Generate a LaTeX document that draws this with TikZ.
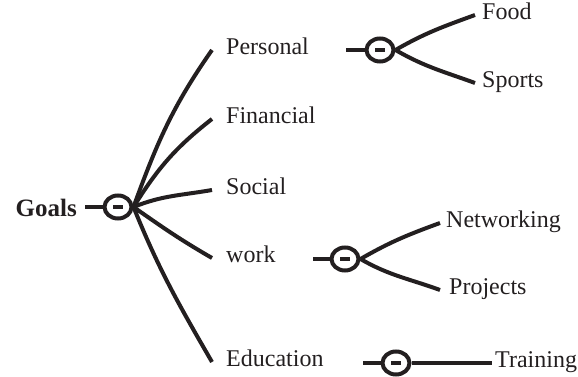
\documentclass[tikz,border=0pt]{standalone}
\usepackage{fontspec}
\setmainfont{Liberation Serif}
\usepackage{tikz}
\usetikzlibrary{shapes.geometric}
\definecolor{ink}{RGB}{35,31,32}

\begin{document}
\begin{tikzpicture}[
    x=1pt,
    y=1pt,
    every node/.style={
      text=ink,
      font=\fontsize{24}{28}\selectfont,
      text height=15pt,
      text depth=5pt},
    topic/.style={
      anchor=west,
      inner xsep=14pt},
    leaf/.style={
      anchor=west,
      inner xsep=7pt},
    fold/.style={
      ellipse,
      draw=ink,
      line width=4pt,
      text height=0pt,
      text depth=0pt,
      inner sep=0pt,
      minimum width=27pt,
      minimum height=23pt,
      path picture={
        \draw[ink, line width=3.5pt]
          ([xshift=-5pt]path picture bounding box.center) --
          ([xshift=5pt]path picture bounding box.center);
      }},
    branch/.style={
      draw=ink,
      line width=4pt},
  ]
  \useasboundingbox (0,0) rectangle (578,377);

  % root
  \node[fold] (goalsfold) at (118,170) {};
  \node[
    anchor=base east,
    inner xsep=8pt,
    font=\fontsize{25}{30}\selectfont\bfseries,
  ] (goals) at (85,160) {Goals};
  \draw[branch] (goalsfold.west) -- (goalsfold.west -| goals.east);

  % first level
  \node[topic] (personal) at (212,327) {Personal};
  \node[topic] (financial) at (212,258) {Financial};
  \node[topic] (social) at (212,187) {Social};
  \node[topic] (work) at (212,119) {work};
  \node[topic] (education) at (212,15) {Education};

  \draw[branch] (goalsfold.east) to[out=70, in=235] (personal.west);
  \draw[branch] (goalsfold.east) to[out=58, in=218] (financial.west);
  \draw[branch] (goalsfold.east) to[out=22, in=190] (social.west);
  \draw[branch] (goalsfold.east) to[out=-35, in=150] (work.west);
  \draw[branch] (goalsfold.east) to[out=-68, in=120] (education.west);

  % personal
  \node[fold] (personalfold) at (380,327) {};
  \coordinate (personalstub) at (346,327);
  \node[leaf] (food) at (475,362) {Food};
  \node[leaf] (sports) at (475,294) {Sports};
  \draw[branch] (personalstub) -- (personalfold);
  \draw[branch] (personalfold.east) to[out=30, in=200] (food.west);
  \draw[branch] (personalfold.east) to[out=-30, in=160] (sports.west);

  % work
  \node[fold] (workfold) at (345,118) {};
  \coordinate (workstub) at (313,118);
  \node[leaf, inner xsep=6pt] (networking) at (440,154) {Networking};
  \node[leaf, inner xsep=9pt] (projects) at (440,87) {Projects};
  \draw[branch] (workstub) -- (workfold);
  \draw[branch] (workfold.east) to[out=30, in=200] (networking.west);
  \draw[branch] (workfold.east) to[out=-30, in=160] (projects.west);

  % education
  \node[fold] (educationfold) at (396,14) {};
  \coordinate (educationstub) at (363,14);
  \node[leaf, inner xsep=3pt] (training) at (492,14) {Training};
  \draw[branch] (educationstub) -- (educationfold);
  \draw[branch] (educationfold) -- (training);
\end{tikzpicture}
\end{document}
